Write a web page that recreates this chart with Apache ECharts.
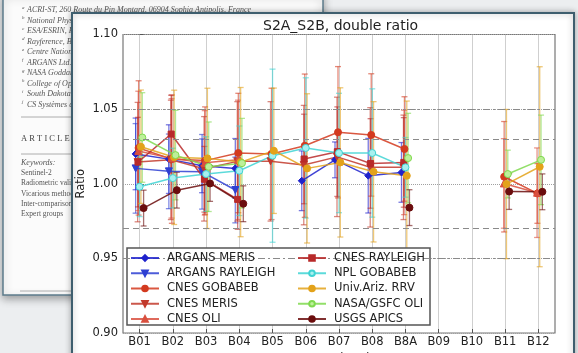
<!DOCTYPE html>
<html>
<head>
<meta charset="utf-8">
<script src="https://cdn.jsdelivr.net/npm/echarts@6/dist/echarts.min.js"></script>
<style>
  html, body { margin: 0; padding: 0; background: #eceef0; }
  #chart { width: 578px; height: 353px; }
</style>
</head>
<body>
<div id="chart"></div>
<script>
// categories and reference levels
const bands = ['B01', 'B02', 'B03', 'B04', 'B05', 'B06', 'B07', 'B08', 'B8A', 'B09', 'B10', 'B11', 'B12'];
const refLines = [1.05, 1.03, 0.97, 0.95];

// double ratio per method (null = no value for that band)
const argansMeris      = [1.020, 1.0165, 1.012, 1.0103, null, 1.002, 1.016, 1.0054, 1.0076, null, null, null, null];
const argansRayleigh   = [1.0103, 1.0083, 1.008, 0.9958, null, null, null, null, null, null, null, null, null];
const cnesGobabeb      = [1.024, 1.0165, 1.0155, 1.0206, 1.020, 1.0255, 1.0345, 1.0327, 1.0233, null, null, 1.0047, 0.9935];
const cnesMeris        = [1.0145, 1.016, 1.010, 1.015, 1.015, 1.0125, 1.018, 1.011, 1.011, null, null, null, null];
const cnesOli          = [1.022, 1.017, 1.014, 1.016, null, null, null, null, 1.0143, null, null, 1.0002, 0.994];
const cnesRayleigh     = [1.0145, 1.0333, 1.003, 0.9895, null, 1.0166, 1.0215, 1.0136, 1.0143, null, null, null, null];
const nplGobabeb       = [0.998, 1.0038, 1.0065, 1.0087, 1.0188, 1.024, 1.0206, 1.0206, 1.011, null, null, null, null];
const univArizRrv      = [1.0248, 1.0177, 1.017, 1.0145, 1.0221, 1.0103, 1.0143, 1.008, 1.0054, null, null, 0.9998, 1.0114];
const nasaGsfcOli      = [1.031, 1.0192, 1.0114, 1.0138, null, null, null, null, 1.0172, null, null, 1.0065, 1.016];
const usgsApics        = [0.9837, 0.9957, 1.0002, 0.9866, null, null, null, null, 0.984, null, null, 0.9948, 0.9946];

// uncertainty (half width of the error bar)
const argansMerisErr    = [0.024, 0.023, 0.018, 0.02, null, 0.02, 0.012, 0.025, 0.02, null, null, null, null];
const argansRayleighErr = [0.03, 0.025, 0.025, 0.022, null, null, null, null, null, null, null, null, null];
const cnesGobabebErr    = [0.045, 0.043, 0.036, 0.04, 0.044, 0.048, 0.044, 0.041, 0.035, null, null, 0.037, 0.02];
const cnesMerisErr      = [0.04, 0.04, 0.035, 0.04, 0.04, 0.04, 0.04, 0.04, 0.035, null, null, null, null];
const cnesOliErr        = [0.04, 0.04, 0.035, 0.04, null, null, null, null, 0.035, null, null, 0.03, 0.03];
const cnesRayleighErr   = [0.03, 0.026, 0.022, 0.02, null, 0.03, 0.03, 0.03, 0.03, null, null, null, null];
const nplGobabebErr     = [0.02, 0.02, 0.025, 0.03, 0.058, 0.047, 0.04, 0.043, 0.02, null, null, null, null];
const univArizRrvErr    = [0.038, 0.045, 0.047, 0.05, 0.042, 0.05, 0.05, 0.047, 0.05, null, null, 0.05, 0.067];
const nasaGsfcOliErr    = [0.03, 0.03, 0.03, 0.03, null, null, null, null, 0.03, null, null, 0.016, 0.03];
const usgsApicsErr      = [0.012, 0.012, 0.012, 0.012, null, null, null, null, 0.012, null, null, 0.012, 0.012];

const methods = [
  { name: 'ARGANS MERIS', vals: argansMeris, err: argansMerisErr, color: '#1f22cc', symbol: 'diamond', rot: 0, shift: -0.12 },
  { name: 'ARGANS RAYLEIGH', vals: argansRayleigh, err: argansRayleighErr, color: '#2e3fd2', symbol: 'triangle', rot: 180, shift: -0.12 },
  { name: 'CNES GOBABEB', vals: cnesGobabeb, err: cnesGobabebErr, color: '#d33a1f', symbol: 'circle', rot: 0, shift: -0.03 },
  { name: 'CNES MERIS', vals: cnesMeris, err: cnesMerisErr, color: '#c23a2c', symbol: 'triangle', rot: 180, shift: -0.06 },
  { name: 'CNES OLI', vals: cnesOli, err: cnesOliErr, color: '#d9503f', symbol: 'triangle', rot: 0, shift: -0.04 },
  { name: 'CNES RAYLEIGH', vals: cnesRayleigh, err: cnesRayleighErr, color: '#b82a2a', symbol: 'rect', rot: 0, shift: -0.05 },
  { name: 'NPL GOBABEB', vals: nplGobabeb, err: nplGobabebErr, color: '#3fd3d3', fill: '#a8f0ef', symbol: 'circle', rot: 0, shift: 0 },
  { name: 'Univ.Ariz. RRV', vals: univArizRrv, err: univArizRrvErr, color: '#e3a21a', symbol: 'circle', rot: 0, shift: 0.04 },
  { name: 'NASA/GSFC OLI', vals: nasaGsfcOli, err: nasaGsfcOliErr, color: '#7fd94f', fill: '#bdf09a', symbol: 'circle', rot: 0, shift: 0.08 },
  { name: 'USGS APICS', vals: usgsApics, err: usgsApicsErr, color: '#6b0d0d', symbol: 'circle', rot: 0, shift: 0.12 }
];

const refStyle = { 1.05: [7, 3, 2, 3], 0.95: [7, 3, 2, 3], 1.03: [6, 4], 0.97: [6, 4] };

var chartDom = document.getElementById('chart');
var myChart = echarts.init(chartDom, null, { renderer: 'canvas' });

// the paper page behind the figure
const pageFont = { fontFamily: 'Liberation Serif', fontSize: 8, fontStyle: 'italic', fill: '#555' };
const affiliations = [
  'ACRI-ST, 260 Route du Pin Montard, 06904 Sophia Antipolis, France',
  'National Physical Laboratory, Teddington, UK',
  'ESA/ESRIN, Frascati, Italy',
  'Rayference, Brussels, Belgium',
  'Centre National d\'Etudes Spatiales, France',
  'ARGANS Ltd., Plymouth, UK',
  'NASA Goddard Space Flight Center, USA',
  'College of Optical Sciences, Arizona, USA',
  'South Dakota State University, USA',
  'CS Systèmes d\'Information, France'
];
const keywords = ['Sentinel-2', 'Radiometric validation', 'Vicarious methods', 'Inter-comparison', 'Expert groups'];

const pageElements = [
  { type: 'rect', z: -5, shape: { x: 0, y: 0, width: 578, height: 353 }, style: { fill: '#eceef0' } },
  { type: 'rect', z: -4, shape: { x: 3, y: -6, width: 320, height: 301 },
    style: { fill: '#fbfbfb', stroke: '#5d7c8c', lineWidth: 1.5, shadowBlur: 8, shadowOffsetY: 3, shadowColor: 'rgba(0,0,0,0.35)' } }
];
affiliations.forEach(function (t, k) {
  pageElements.push({ type: 'text', z: -3, x: 22, y: 5 + k * 10.5,
    style: Object.assign({}, pageFont, { text: String.fromCharCode(97 + k), fontSize: 5 }) });
  pageElements.push({ type: 'text', z: -3, x: 27, y: 6 + k * 10.5, style: Object.assign({ text: t }, pageFont) });
});
pageElements.push({ type: 'line', z: -3, shape: { x1: 21, y1: 117, x2: 320, y2: 117 }, style: { stroke: '#999', lineWidth: 0.8 } });
pageElements.push({ type: 'text', z: -3, x: 21, y: 134,
  style: { text: 'A R T I C L E    I N F O', fontFamily: 'Liberation Serif', fontSize: 8.5, fill: '#444' } });
pageElements.push({ type: 'line', z: -3, shape: { x1: 21, y1: 154, x2: 320, y2: 154 }, style: { stroke: '#999', lineWidth: 0.8 } });
pageElements.push({ type: 'text', z: -3, x: 21, y: 159, style: Object.assign({ text: 'Keywords:' }, pageFont) });
keywords.forEach(function (t, k) {
  pageElements.push({ type: 'text', z: -3, x: 21, y: 169 + k * 10.3,
    style: { text: t, fontFamily: 'Liberation Serif', fontSize: 7.5, fill: '#555' } });
});
pageElements.push({ type: 'line', z: -3, shape: { x1: 20, y1: 291, x2: 320, y2: 291 }, style: { stroke: '#999', lineWidth: 0.8 } });
// figure panel
pageElements.push({ type: 'rect', z: -1, shape: { x: 72, y: 13, width: 502, height: 350 },
  style: { fill: '#ffffff', stroke: '#3e5e6e', lineWidth: 2, shadowBlur: 6, shadowColor: 'rgba(0,0,0,0.3)' } });
// legend frame
pageElements.push({ type: 'rect', z: 5, shape: { x: 127, y: 248, width: 303, height: 77 },
  style: { fill: '#ffffff', stroke: '#555', lineWidth: 1.5 } });

const lineSeries = methods.map(function (m) {
  return {
    type: 'line',
    name: m.name,
    xAxisIndex: 1,
    data: m.vals.map(function (v, i) { return v == null ? [i + m.shift, '-'] : [i + m.shift, v]; }),
    symbol: m.symbol,
    symbolRotate: m.rot,
    symbolSize: m.symbol === 'rect' ? 6 : 7,
    showAllSymbol: true,
    lineStyle: { color: m.color, width: 1.5, opacity: 0.85 },
    itemStyle: { color: m.fill || m.color, borderColor: m.color, borderWidth: 1 },
    z: 3,
    silent: true
  };
});

const errorSeries = methods.map(function (m, idx) {
  const s = {
    type: 'custom',
    name: m.name + ' err',
    xAxisIndex: 1,
    data: m.vals.map(function (v, i) {
      return v == null ? null : [i + m.shift, v - m.err[i], v + m.err[i]];
    }).filter(function (d) { return d; }),
    encode: { x: 0, y: [1, 2] },
    renderItem: function (params, api) {
      const lo = api.coord([api.value(0), api.value(1)]);
      const hi = api.coord([api.value(0), api.value(2)]);
      const style = { stroke: m.color, lineWidth: 1.3, opacity: 0.6 };
      return {
        type: 'group',
        children: [
          { type: 'line', shape: { x1: lo[0], y1: lo[1], x2: hi[0], y2: hi[1] }, style: style },
          { type: 'line', shape: { x1: lo[0] - 3, y1: lo[1], x2: lo[0] + 3, y2: lo[1] }, style: style },
          { type: 'line', shape: { x1: hi[0] - 3, y1: hi[1], x2: hi[0] + 3, y2: hi[1] }, style: style }
        ]
      };
    },
    z: 2,
    silent: true
  };
  if (idx === 0) {
    s.markLine = {
      silent: true,
      symbol: 'none',
      label: { show: false },
      data: refLines.map(function (v) {
        return { yAxis: v, lineStyle: { type: refStyle[v], color: '#8a8a8a', width: 1.2 } };
      })
    };
  }
  return s;
});

const legendBase = {
  orient: 'vertical',
  top: 252,
  itemWidth: 28,
  itemHeight: 7,
  itemGap: 3.25,
  padding: 0,
  selectedMode: false,
  textStyle: { fontSize: 11.5, color: '#222', padding: [0, 0, 0, 3] },
  z: 6
};

option = {
  animation: false,
  textStyle: { fontFamily: 'DejaVu Sans' },
  graphic: pageElements,
  title: {
    text: 'S2A_S2B, double ratio',
    left: 263,
    top: 19,
    padding: 0,
    textStyle: { fontSize: 14, fontWeight: 'normal', color: '#222' }
  },
  legend: [
    Object.assign({ left: 130, data: methods.slice(0, 5).map(function (m) { return m.name; }) }, legendBase),
    Object.assign({ left: 297, data: methods.slice(5).map(function (m) { return m.name; }) }, legendBase)
  ],
  grid: {
    left: 123,
    right: 23,
    top: 34.5,
    bottom: 20,
    outerBoundsMode: 'none',
    show: true,
    borderColor: '#777',
    borderWidth: 1.2,
    backgroundColor: 'transparent'
  },
  xAxis: [
    {
      type: 'category',
      data: bands,
      boundaryGap: true,
      name: 'Waveband',
      nameLocation: 'middle',
      nameGap: 20,
      nameMoveOverlap: false,
      nameTextStyle: { fontSize: 11.5, color: '#222' },
      axisLine: { show: false },
      axisTick: { show: true, inside: true, alignWithLabel: true, length: 4, lineStyle: { color: '#555' } },
      axisLabel: { fontSize: 11.5, color: '#222', margin: 3 },
      splitLine: { show: true, alignWithLabel: true, lineStyle: { type: 'dotted', color: '#a0a0a0' } }
    },
    {
      type: 'value',
      min: -0.5,
      max: 12.5,
      show: false
    }
  ],
  yAxis: {
    type: 'value',
    min: 0.9,
    max: 1.1,
    interval: 0.05,
    name: 'Ratio',
    nameLocation: 'middle',
    nameGap: 36,
    nameMoveOverlap: false,
    nameTextStyle: { fontSize: 11.5, color: '#222' },
    axisLine: { show: false },
    axisTick: { show: true, inside: true, length: 4, lineStyle: { color: '#555' } },
    axisLabel: { fontSize: 11.5, color: '#222', margin: 5, formatter: function (v) { return v.toFixed(2); } },
    splitLine: { show: true, lineStyle: { type: 'dotted', color: '#a0a0a0' } }
  },
  series: lineSeries.concat(errorSeries)
};

myChart.setOption(option);
</script>
</body>
</html>
